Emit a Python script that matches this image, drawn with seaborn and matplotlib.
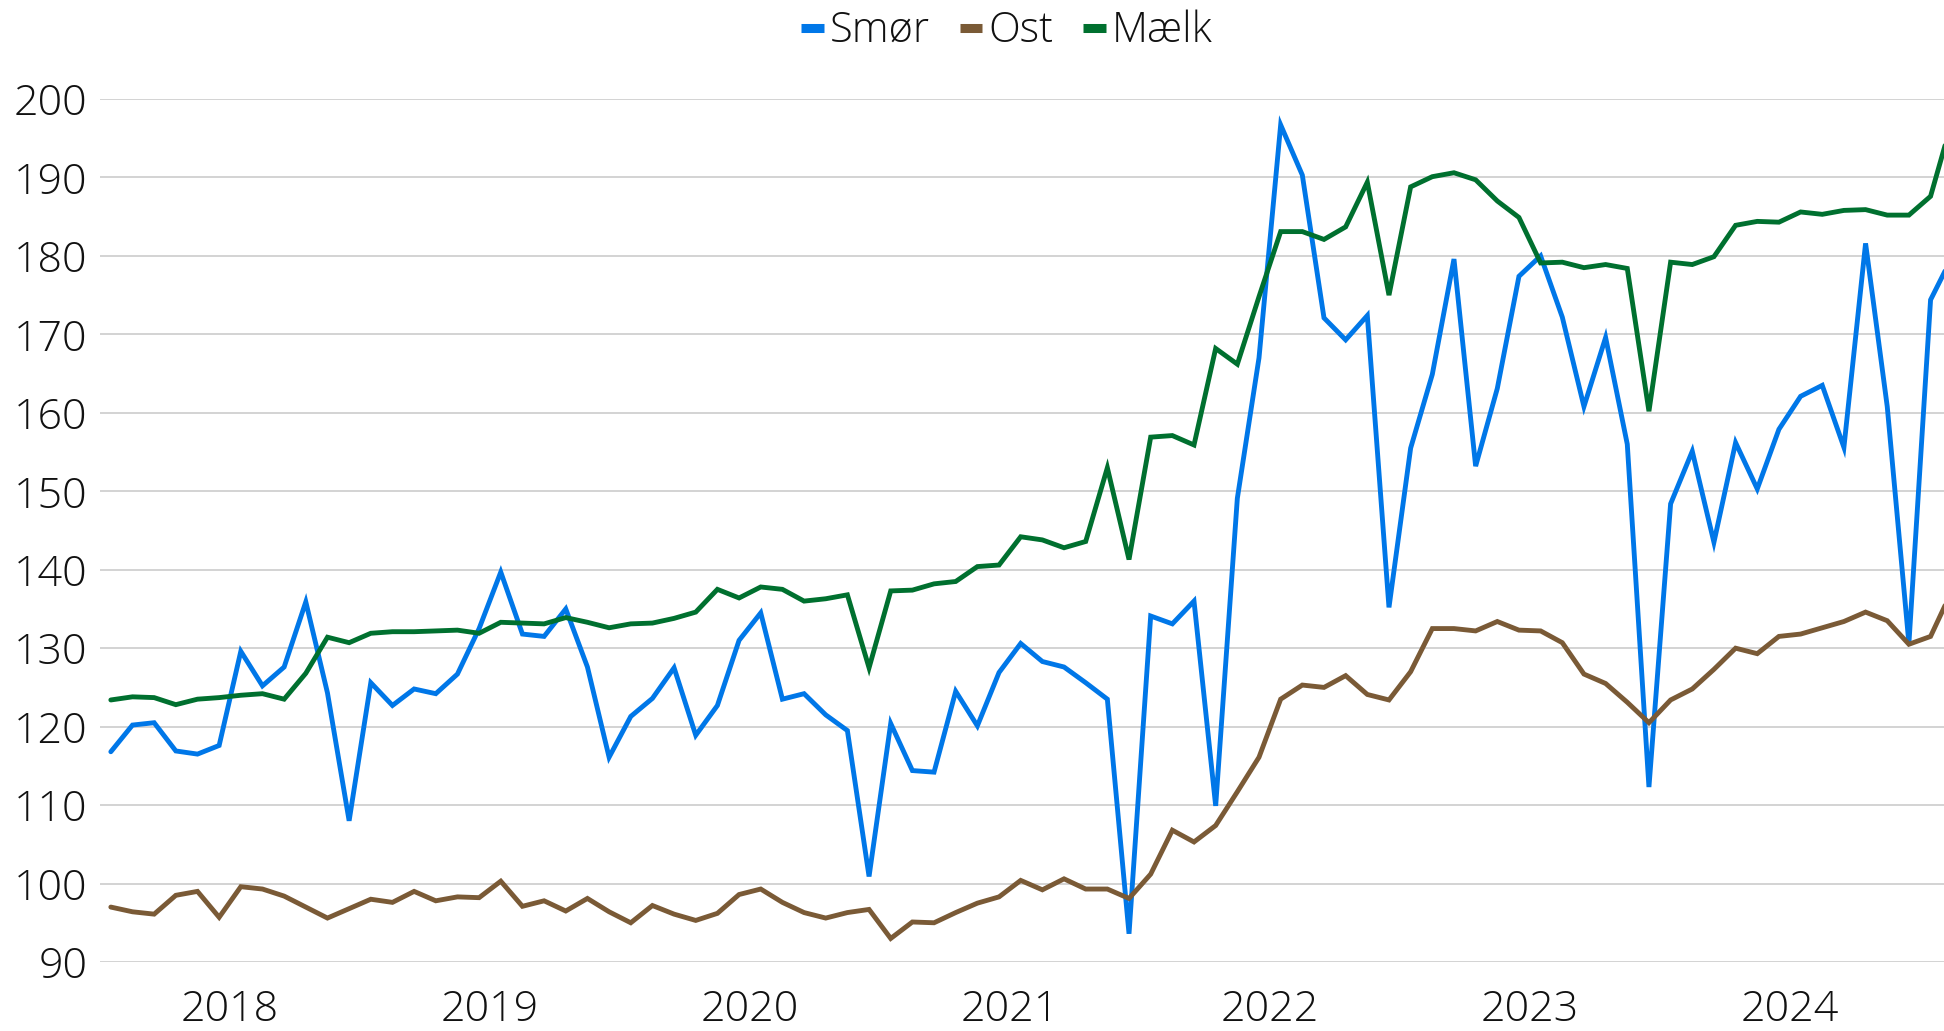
import numpy as np
import pandas as pd
import matplotlib
matplotlib.use("Agg")
import matplotlib.pyplot as plt
from matplotlib import font_manager
from matplotlib.lines import Line2D
import seaborn as sns

# ---- data (monthly index values, Jan 2018 -> Feb 2025) ----
years = ["2018", "2019", "2020", "2021", "2022", "2023", "2024"]
series_names = ["Smør", "Ost", "Mælk"]

smoer = [116.8, 120.2, 120.5, 116.9, 116.5, 117.6, 129.6, 125.2, 127.6, 135.9, 124.3, 108.0,
         125.6, 122.7, 124.8, 124.2, 126.7, 132.5, 139.7, 131.8, 131.5, 135.0, 127.6, 116.1,
         121.3, 123.6, 127.5, 118.9, 122.7, 131.0, 134.5, 123.5, 124.2, 121.5, 119.5, 100.9,
         120.4, 114.4, 114.2, 124.5, 120.1, 126.9, 130.6, 128.3, 127.6, 125.6, 123.5, 93.6,
         134.1, 133.1, 136.0, 109.9, 149.1, 167.0, 196.7, 190.3, 172.1, 169.3, 172.4, 135.2,
         155.5, 164.9, 179.6, 153.2, 163.1, 177.4, 180.0, 172.2, 160.8, 169.6, 156.0, 112.3,
         148.4, 155.1, 143.5, 156.2, 150.3, 157.9, 162.1, 163.5, 155.6, 181.6, 160.8, 130.6,
         174.4, 179.9]

ost = [97.0, 96.4, 96.1, 98.5, 99.0, 95.7, 99.6, 99.3, 98.4, 97.0, 95.6, 96.8,
       98.0, 97.6, 99.0, 97.8, 98.3, 98.2, 100.3, 97.1, 97.8, 96.5, 98.1, 96.4,
       95.0, 97.2, 96.1, 95.3, 96.2, 98.6, 99.3, 97.6, 96.3, 95.6, 96.3, 96.7,
       93.0, 95.1, 95.0, 96.3, 97.5, 98.3, 100.4, 99.2, 100.6, 99.3, 99.3, 98.1,
       101.2, 106.8, 105.3, 107.4, 111.7, 116.1, 123.5, 125.3, 125.0, 126.5, 124.1, 123.4,
       127.0, 132.5, 132.5, 132.2, 133.4, 132.3, 132.2, 130.7, 126.7, 125.5, 123.1, 120.5,
       123.4, 124.8, 127.3, 130.0, 129.3, 131.5, 131.8, 132.6, 133.4, 134.6, 133.5, 130.5,
       131.5, 137.4]

maelk = [123.4, 123.8, 123.7, 122.8, 123.5, 123.7, 124.0, 124.2, 123.5, 126.8, 131.4, 130.7,
         131.9, 132.1, 132.1, 132.2, 132.3, 131.9, 133.3, 133.2, 133.1, 133.9, 133.3, 132.6,
         133.1, 133.2, 133.8, 134.6, 137.5, 136.4, 137.8, 137.5, 136.0, 136.3, 136.8, 127.5,
         137.3, 137.4, 138.2, 138.5, 140.4, 140.6, 144.2, 143.8, 142.8, 143.6, 153.0, 141.3,
         156.9, 157.1, 155.9, 168.2, 166.2, 174.8, 183.1, 183.1, 182.1, 183.7, 189.4, 175.0,
         188.8, 190.1, 190.6, 189.7, 187.0, 184.9, 179.1, 179.2, 178.5, 178.9, 178.4, 160.2,
         179.2, 178.9, 179.9, 183.9, 184.4, 184.3, 185.6, 185.3, 185.8, 185.9, 185.2, 185.2,
         187.6, 197.3]

y_ticks = [90, 100, 110, 120, 130, 140, 150, 160, 170, 180, 190, 200]

colors = {"Smør": "#0077E8", "Ost": "#7A5A36", "Mælk": "#00702F"}

# ---- build long-form table ----
n = len(smoer)
month_idx = np.arange(n)
df = pd.concat([
    pd.DataFrame({"m": month_idx, "v": smoer, "s": "Smør"}),
    pd.DataFrame({"m": month_idx, "v": ost, "s": "Ost"}),
    pd.DataFrame({"m": month_idx, "v": maelk, "s": "Mælk"}),
], ignore_index=True)

sns.set_theme(style="white")

avail = {f.name for f in font_manager.fontManager.ttflist}
fam = None
for cand in ["Liberation Sans Narrow", "Open Sans", "Roboto", "DejaVu Sans"]:
    if cand in avail:
        fam = cand
        break
plt.rcParams["font.family"] = [fam, "DejaVu Sans"]
plt.rcParams["font.weight"] = "light"

fig = plt.figure(figsize=(19.44, 10.31), dpi=100)
ax = fig.add_axes([100 / 1944, 1 - 962 / 1031, 1 - 100 / 1944, (962 - 99) / 1031])

sns.lineplot(data=df, x="m", y="v", hue="s", hue_order=series_names, palette=colors,
             ax=ax, legend=False, sort=False)
for ln in ax.lines:
    ln.set_linewidth(3.5)
    ln.set_solid_joinstyle("miter")
    ln.set_clip_on(False)

ax.set_xlim(-0.5, 84.62)
ax.set_ylim(90, 200)
ax.set_yticks(y_ticks)
ax.set_yticklabels([str(t) for t in y_ticks])
ax.set_xticks([5.5 + 12 * i for i in range(len(years))])
ax.set_xticklabels(years)
ax.set_xlabel("")
ax.set_ylabel("")

ax.grid(axis="y", color="#d0d0d0", linewidth=1.3)
ax.grid(axis="x", visible=False)
ax.set_axisbelow(True)
for sp in ax.spines.values():
    sp.set_visible(False)

ax.tick_params(axis="y", length=0, pad=9, labelsize=31, labelcolor="#111111")
ax.tick_params(axis="x", length=0, pad=19, labelsize=31, labelcolor="#111111")
ax.patch.set_alpha(0)

handles = [Line2D([0], [0], color=colors[s], linewidth=6.5, solid_capstyle="butt") for s in series_names]
fig.legend(handles, series_names, loc="center", bbox_to_anchor=(0.518, 0.97), ncol=3,
           frameon=False, fontsize=30, handlelength=0.55, handletextpad=0.15,
           columnspacing=0.7, labelcolor="#111111")

fig.savefig("out.png", dpi=100)
